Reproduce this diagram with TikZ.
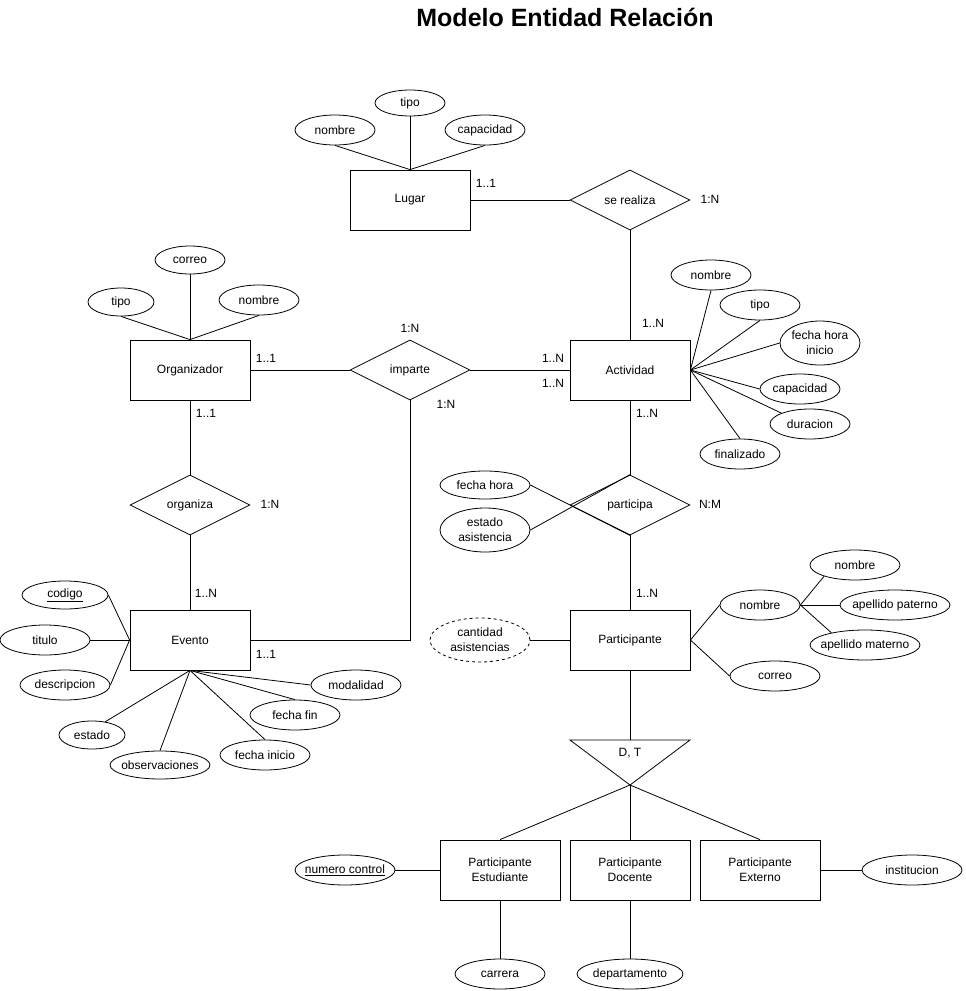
\documentclass[tikz,border=0pt]{standalone}
\usepackage{fontspec}
\setmainfont{Liberation Sans}
\usepackage{tikz}
\usetikzlibrary{positioning, shapes.geometric}

\begin{document}
\begin{tikzpicture}[x=1pt, y=-1pt, line width=0.8pt,
    every node/.style={font=\fontsize{12}{15}\selectfont},
    entidad/.style={draw, rectangle, minimum width=120pt, minimum height=60pt, inner sep=0pt, align=center},
    atributo/.style={draw, ellipse, minimum width=80pt, minimum height=30pt, inner xsep=-6pt, inner ysep=1pt, align=center},
    derivado/.style={atributo, dashed},
    relacion/.style={draw, diamond, shape aspect=2, minimum width=120pt, minimum height=60pt, inner sep=0pt},
    card/.style={inner sep=0pt}]

        \useasboundingbox (0,0) rectangle (966,991);

        % Titulo
        \node [font=\fontsize{25}{30}\selectfont\bfseries] (titulo) at (565,17) {Modelo Entidad Relación};

        % Entidades
        \node [entidad] (lugar) at (410,200) {Lugar};
        \node [entidad] (actividad) at (630,370) {Actividad};
        \node [entidad] (organizador) at (190,370) {Organizador};
        \node [entidad] (evento) at (190,640) {Evento};
        \node [entidad] (participante) at (630,640) {Participante};
        \node [entidad] (estudiante) at (500,870) {Participante\\Estudiante};
        \node [entidad] (docente) at (630,870) {Participante\\Docente};
        \node [entidad] (externo) at (760,870) {Participante\\Externo};

        % Relaciones
        \node [relacion] (serealiza) at (630,200) {se realiza};
        \node [relacion] (imparte) at (410,370) {imparte};
        \node [relacion] (organiza) at (190,505) {organiza};
        \node [relacion] (participa) at (630,505) {participa};

        % Especializacion (triangulo)
        \coordinate (tizq) at (570,740);
        \coordinate (tder) at (690,740);
        \coordinate (tsup) at (630,740);
        \coordinate (tvert) at (630,785);
        \draw (tizq) -- (tder) -- (tvert) -- cycle;
        \node (dt) at (630,753) {D, T};

        % Atributos de Lugar
        \node [atributo] (lnombre) at (335,130) {nombre};
        \node [atributo, minimum width=70pt, minimum height=26pt] (ltipo) at (410,103) {tipo};
        \node [atributo] (lcapacidad) at (485,130) {capacidad};

        % Atributos de Organizador
        \node [atributo, minimum width=70pt, minimum height=28pt] (ocorreo) at (190,260) {correo};
        \node [atributo, minimum width=66pt, minimum height=28pt] (otipo) at (121,302) {tipo};
        \node [atributo] (onombre) at (259,300) {nombre};

        % Atributos de Actividad
        \node [atributo] (anombre) at (711,275) {nombre};
        \node [atributo] (atipo) at (760,305) {tipo};
        \node [atributo, minimum height=44pt] (afecha) at (820,343) {fecha hora\\inicio};
        \node [atributo] (acapacidad) at (800,389) {capacidad};
        \node [atributo] (aduracion) at (810,424) {duracion};
        \node [atributo] (afinalizado) at (740,454) {finalizado};

        % Atributos de Evento
        \node [atributo, minimum width=86pt, minimum height=28pt] (ecodigo) at (65,595) {\underline{codigo}};
        \node [atributo, minimum width=90pt] (etitulo) at (45,640) {titulo};
        \node [atributo, minimum width=90pt] (edescripcion) at (65,685) {descripcion};
        \node [atributo, minimum width=66pt, minimum height=28pt] (eestado) at (92,735) {estado};
        \node [atributo, minimum width=100pt, minimum height=28pt] (eobservaciones) at (160,765) {observaciones};
        \node [atributo, minimum width=90pt] (einicio) at (265,755) {fecha inicio};
        \node [atributo, minimum width=90pt] (efin) at (295,715) {fecha fin};
        \node [atributo, minimum width=90pt] (emodalidad) at (356,685) {modalidad};

        % Atributos de participa
        \node [atributo, minimum width=90pt, minimum height=28pt] (pfecha) at (485,485) {fecha hora};
        \node [atributo, minimum width=90pt, minimum height=44pt] (pestado) at (485,530) {estado\\asistencia};

        % Atributos de Participante
        \node [derivado, minimum width=100pt, minimum height=44pt] (pcantidad) at (480,640) {cantidad\\asistencias};
        \node [atributo] (pnombre) at (760,605) {nombre};
        \node [atributo, minimum width=90pt] (pcorreo) at (775,676) {correo};
        \node [atributo, minimum width=90pt] (pnom) at (855,565) {nombre};
        \node [atributo, minimum width=110pt] (ppaterno) at (895,605) {apellido paterno};
        \node [atributo, minimum width=110pt] (pmaterno) at (865,645) {apellido materno};

        % Atributos de subtipos
        \node [atributo, minimum width=100pt] (numcontrol) at (345,870) {\underline{numero control}};
        \node [atributo, minimum width=100pt] (institucion) at (912,870) {institucion};
        \node [atributo, minimum width=90pt] (carrera) at (500,974) {carrera};
        \node [atributo, minimum width=106pt] (departamento) at (630,974) {departamento};

        % Cardinalidades
        \node [card] (cLugar) at (486,183) {1..1};
        \node [card] (cRealiza) at (710,199) {1:N};
        \node [card] (cActSup) at (653,323) {1..N};
        \node [card] (cImparte) at (410,328) {1:N};
        \node [card] (cOrgDer) at (266,358) {1..1};
        \node [card] (cActIzqA) at (553,358) {1..N};
        \node [card] (cActIzqB) at (553,383) {1..N};
        \node [card] (cImparteInf) at (446,404) {1:N};
        \node [card] (cOrgInf) at (206,413) {1..1};
        \node [card] (cOrganiza) at (270,504) {1:N};
        \node [card] (cEvtSup) at (206,593) {1..N};
        \node [card] (cEvtDer) at (266,654) {1..1};
        \node [card] (cActInf) at (647,413) {1..N};
        \node [card] (cParticipa) at (710,504) {N:M};
        \node [card] (cPartSup) at (647,593) {1..N};

        % Lineas de relaciones
        \draw (lugar.east) -- (serealiza.west);
        \draw (serealiza.south) -- (actividad.north);
        \draw (organizador.east) -- (imparte.west);
        \draw (imparte.east) -- (actividad.west);
        \draw (imparte.south) |- (evento.east);
        \draw (organizador.south) -- (organiza.north);
        \draw (organiza.south) -- (evento.north);
        \draw (actividad.south) -- (participa.north);
        \draw (participa.south) -- (participante.north);
        \draw (participante.south) -- (tsup);
        \draw (tvert) -- (estudiante.north);
        \draw (tvert) -- (docente.north);
        \draw (tvert) -- (externo.north);

        % Lineas de atributos
        \draw (lugar.north) -- (lnombre.south);
        \draw (lugar.north) -- (ltipo.south);
        \draw (lugar.north) -- (lcapacidad.south);
        \draw (organizador.north) -- (ocorreo.south);
        \draw (organizador.north) -- (otipo.south);
        \draw (organizador.north) -- (onombre.south);
        \draw (actividad.east) -- (anombre.south);
        \draw (actividad.east) -- (atipo.south);
        \draw (actividad.east) -- (afecha.west);
        \draw (actividad.east) -- (acapacidad.west);
        \draw (actividad.east) -- (aduracion.north west);
        \draw (actividad.east) -- (afinalizado.north);
        \draw (evento.west) -- (ecodigo.east);
        \draw (evento.west) -- (etitulo.east);
        \draw (evento.west) -- (edescripcion.east);
        \draw (evento.south) -- (eestado.45);
        \draw (evento.south) -- (eobservaciones.north);
        \draw (evento.south) -- (einicio.north);
        \draw (evento.south) -- (efin.north);
        \draw (evento.south) -- (emodalidad.west);
        \draw (pfecha.east) -- (participa.south);
        \draw (pestado.east) -- (participa.north);
        \draw (participante.west) -- (pcantidad.east);
        \draw (participante.east) -- (pnombre.west);
        \draw (participante.east) -- (pcorreo.west);
        \draw (pnombre.east) -- (pnom.200);
        \draw (pnombre.east) -- (ppaterno.west);
        \draw (pnombre.east) -- (pmaterno.160);
        \draw (estudiante.west) -- (numcontrol.east);
        \draw (estudiante.south) -- (carrera.north);
        \draw (docente.south) -- (departamento.north);
        \draw (externo.east) -- (institucion.west);

    \end{tikzpicture}
\end{document}
